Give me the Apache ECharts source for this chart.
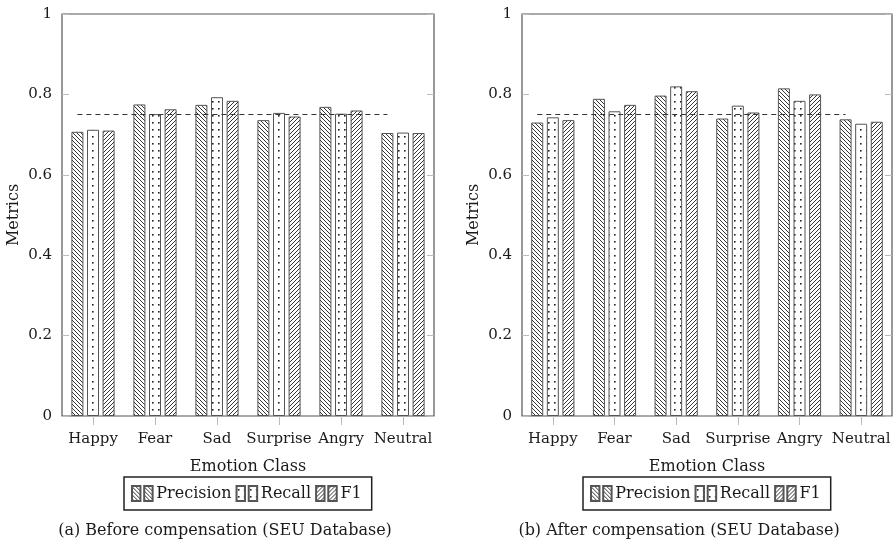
<!DOCTYPE html>
<html><head><meta charset="utf-8">
<script src="https://cdn.jsdelivr.net/npm/echarts@6/dist/echarts.min.js"></script>
<style>html,body{margin:0;padding:0;background:#fff}#c{width:896px;height:539px}</style>
</head><body><div id="c"></div>
<script>
const categories = ['Happy', 'Fear', 'Sad', 'Surprise', 'Angry', 'Neutral'];
const seriesNames = ['Precision', 'Recall', 'F1'];
const beforePrecision = [0.707, 0.775, 0.774, 0.736, 0.769, 0.704];
const beforeRecall    = [0.712, 0.751, 0.793, 0.754, 0.752, 0.705];
const beforeF1        = [0.710, 0.763, 0.784, 0.745, 0.760, 0.704];
const afterPrecision  = [0.730, 0.789, 0.797, 0.740, 0.815, 0.738];
const afterRecall     = [0.743, 0.758, 0.820, 0.772, 0.784, 0.727];
const afterF1         = [0.736, 0.774, 0.808, 0.755, 0.800, 0.732];
const yTicks = [0, 0.2, 0.4, 0.6, 0.8, 1];
const threshold = 0.75;
const xAxisTitle = 'Emotion Class';
const yAxisTitle = 'Metrics';
const captions = ['(a) Before compensation (SEU Database)', '(b) After compensation (SEU Database)'];

const FONT = 'DejaVu Serif';
const TXT = '#1a1a1a';

function hatch(dir) {
  const s = 4;
  const c = document.createElement('canvas');
  c.width = s; c.height = s;
  const g = c.getContext('2d');
  g.fillStyle = '#fff'; g.fillRect(0, 0, s, s);
  g.strokeStyle = '#2a2a2a'; g.lineWidth = 0.95;
  g.beginPath();
  if (dir > 0) {
    g.moveTo(0, s); g.lineTo(s, 0);
    g.moveTo(-1, 1); g.lineTo(1, -1);
    g.moveTo(s - 1, s + 1); g.lineTo(s + 1, s - 1);
  } else {
    g.moveTo(0, 0); g.lineTo(s, s);
    g.moveTo(-1, s - 1); g.lineTo(1, s + 1);
    g.moveTo(s - 1, -1); g.lineTo(s + 1, 1);
  }
  g.stroke();
  return c;
}
function dots() {
  const c = document.createElement('canvas');
  c.width = 6; c.height = 7;
  const g = c.getContext('2d');
  g.fillStyle = '#fff'; g.fillRect(0, 0, 6, 7);
  g.fillStyle = '#222';
  g.fillRect(2, 3, 1.6, 1.6);
  return c;
}
const patterns = [hatch(-1), dots(), hatch(1)];

const grids = [
  { left: 62, top: 14, width: 372, height: 402 },
  { left: 522, top: 14, width: 370, height: 402 }
];
const dataSets = [
  [beforePrecision, beforeRecall, beforeF1],
  [afterPrecision, afterRecall, afterF1]
];
const legendLeft = [124, 583];
const captionX = [220, 674];

const option = {
  animation: false,
  textStyle: { fontFamily: FONT },
  grid: grids.map(g => Object.assign({ show: true, borderColor: '#555', borderWidth: 1.2, backgroundColor: 'transparent' }, g)),
  xAxis: [],
  yAxis: [],
  series: [],
  legend: [],
  title: []
};

grids.forEach((g, i) => {
  option.xAxis.push({
    gridIndex: i, type: 'category', data: categories, position: 'bottom',
    axisLine: { show: false },
    axisTick: { show: true, inside: false, length: 9, alignWithLabel: true, lineStyle: { color: '#bbb' } },
    axisLabel: { fontFamily: FONT, fontSize: 15, color: TXT, margin: 16, interval: 0 },
    name: xAxisTitle, nameLocation: 'middle', nameGap: 43,
    nameTextStyle: { fontFamily: FONT, fontSize: 16, color: TXT }
  });
  option.xAxis.push({
    gridIndex: i, type: 'category', data: categories, position: 'top',
    axisLine: { show: false },
    axisTick: { show: true, inside: false, length: 9, alignWithLabel: true, lineStyle: { color: '#bbb' } },
    axisLabel: { show: false }
  });
  option.yAxis.push({
    gridIndex: i, type: 'value', min: yTicks[0], max: yTicks[yTicks.length - 1], interval: 0.2,
    position: 'left',
    axisLine: { show: false },
    axisTick: { show: true, inside: true, length: 7, lineStyle: { color: '#bbb' } },
    splitLine: { show: false },
    axisLabel: { fontFamily: FONT, fontSize: 15, color: TXT, margin: 10 },
    name: yAxisTitle, nameLocation: 'middle', nameGap: 40, nameRotate: 90,
    nameTextStyle: { fontFamily: FONT, fontSize: 16, color: TXT }
  });
  option.yAxis.push({
    gridIndex: i, type: 'value', min: yTicks[0], max: yTicks[yTicks.length - 1], interval: 0.2,
    position: 'right',
    axisLine: { show: false },
    axisTick: { show: true, inside: true, length: 7, lineStyle: { color: '#bbb' } },
    splitLine: { show: false },
    axisLabel: { show: false }
  });
  seriesNames.forEach((name, k) => {
    const s = {
      name: name, type: 'bar', xAxisIndex: 2 * i, yAxisIndex: 2 * i,
      data: dataSets[i][k], barWidth: 12, barGap: '30%',
      itemStyle: { color: { image: patterns[k], repeat: 'repeat' }, borderColor: '#555', borderWidth: 1 },
      emphasis: { disabled: true }
    };
    if (k === 0) {
      s.markLine = {
        silent: true, symbol: 'none', label: { show: false },
        lineStyle: { type: [5, 4], color: '#333', width: 1 },
        data: [[{ coord: [categories[0], threshold] }, { coord: [categories[categories.length - 1], threshold] }]]
      };
    }
    option.series.push(s);
  });
  option.legend.push({
    left: legendLeft[i], top: 477, orient: 'horizontal', data: seriesNames,
    itemWidth: 22, itemHeight: 15, itemGap: 4,
    icon: 'path://M0,0H9V16H0Z M13,0H22V16H13Z',
    borderColor: '#222', borderWidth: 1.5, padding: [8, 10, 8, 7],
    selectedMode: false,
    textStyle: { fontFamily: FONT, fontSize: 16, color: TXT, padding: [0, 0, 0, -2] }
  });
  option.title.push({
    text: captions[i], left: captionX[i], top: 518, textAlign: 'center',
    textStyle: { fontFamily: FONT, fontSize: 16, fontWeight: 'normal', color: TXT }
  });
});

const chart = echarts.init(document.getElementById('c'), null, { renderer: 'canvas' });
chart.setOption(option);
</script>
</body></html>
